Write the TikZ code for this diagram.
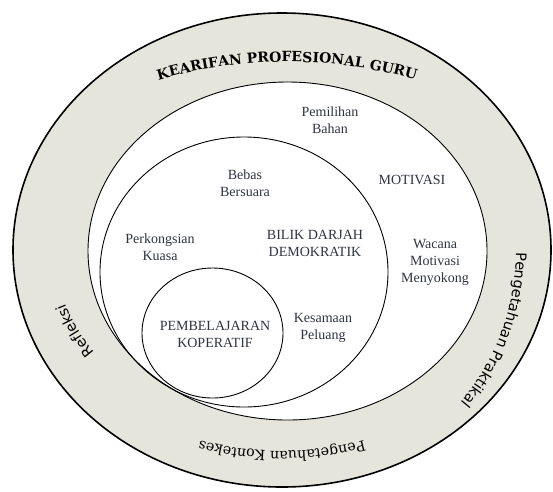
\documentclass[tikz,border=0pt]{standalone}
\usepackage{fontspec}
\setmainfont{Liberation Serif}
\newfontfamily\bandserif{DejaVu Serif}
\newfontfamily\bandsans{DejaVu Sans}
\usetikzlibrary{decorations.text,calc}
\definecolor{band}{HTML}{E6E5DB}
\definecolor{ink}{HTML}{2F3444}
\newcommand\capfont{\bandserif\bfseries\fontsize{14}{14}\selectfont}
\newcommand\rimfont{\bandserif\fontsize{14.2}{14.2}\selectfont}
\newcommand\sidefont{\bandsans\fontsize{14.5}{14.5}\selectfont}
\begin{document}
\begin{tikzpicture}[x=1pt, y=1pt, line join=round, line cap=round,
	lbl/.style={align=center, text=ink, font=\fontsize{14}{17}\selectfont},
	arclbl/.style={decorate, decoration={text along path, text align=center, text={#1}}}]
	\useasboundingbox (0,0) rectangle (553,-491);
	\coordinate (c) at (282,-250);
	% lingkaran
	\draw[line width=1.6pt, fill=band] (c) ellipse[x radius=269pt, y radius=237pt];
	\draw[line width=0.9pt, fill=white] (287.5,-251) ellipse[x radius=199.5pt, y radius=169pt];
	\draw[line width=0.9pt] (244,-272) ellipse[x radius=144pt, y radius=135pt];
	\draw[line width=0.9pt] (212.5,-333) ellipse[x radius=70.5pt, y radius=65pt];
	% tulisan dalam
	\node[lbl] (bahan) at (330,-120) {Pemilihan\\Bahan};
	\node[lbl] (motivasi) at (412,-180) {MOTIVASI};
	\node[lbl] (bebas) at (245,-183) {Bebas\\Bersuara};
	\node[lbl] (kuasa) at (160,-247) {Perkongsian\\Kuasa};
	\node[lbl] (bilik) at (315,-243) {BILIK DARJAH\\DEMOKRATIK};
	\node[lbl] (wacana) at (435,-262) {Wacana\\Motivasi\\Menyokong};
	\node[lbl] (peluang) at (323,-328) {Kesamaan\\Peluang};
	\node[lbl] (koperatif) at (215,-334) {PEMBELAJARAN\\KOPERATIF};
	% tulisan pada lingkaran luar
	\path[arclbl={|\capfont|KEARIFAN PROFESIONAL GURU}] ($(287,-250)+(150:300pt and 188pt)$) arc[start angle=150, end angle=30, x radius=300pt, y radius=188pt];
	\path[arclbl={|\rimfont|Pengetahuan Kontekes}] ($(c)+(330:256pt and 201pt)$) arc[start angle=330, end angle=210, x radius=256pt, y radius=201pt];
	\path[arclbl={|\sidefont|Pengetahuan Praktikal}] ($(c)+(20:234pt and 236pt)$) arc[start angle=20, end angle=-61, x radius=234pt, y radius=236pt];
	\path[arclbl={|\sidefont|Refleksi}] ($(c)+(243.6:227pt and 182pt)$) arc[start angle=243.6, end angle=163.6, x radius=227pt, y radius=182pt];
\end{tikzpicture}
\end{document}
